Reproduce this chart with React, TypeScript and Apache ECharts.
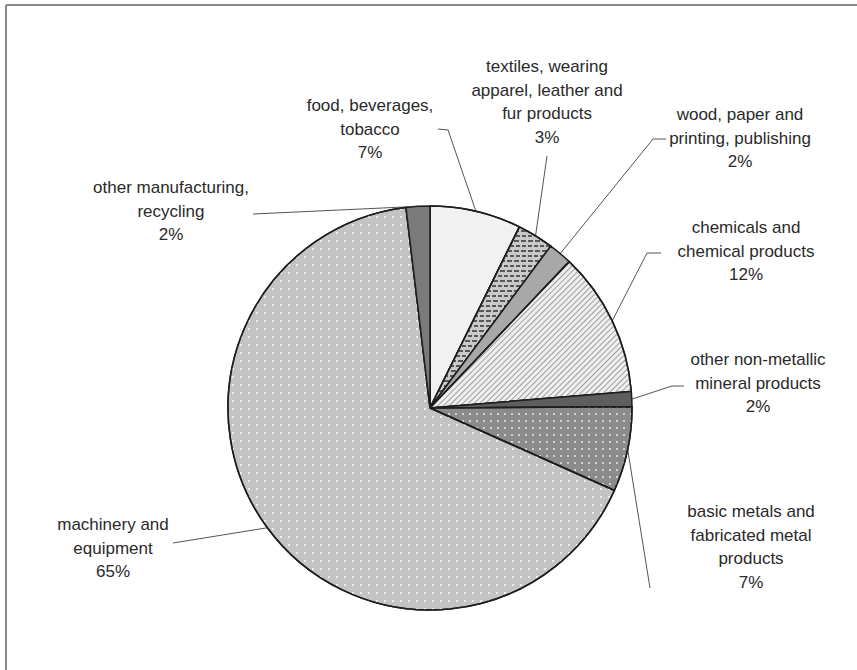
import React, { useEffect, useRef } from "react";
import * as echarts from "echarts";

const categories = [
  "food, beverages,\ntobacco",
  "textiles, wearing\napparel, leather and\nfur products",
  "wood, paper and\nprinting, publishing",
  "chemicals and\nchemical products",
  "other non-metallic\nmineral products",
  "basic metals and\nfabricated metal\nproducts",
  "machinery and\nequipment",
  "other manufacturing,\nrecycling",
];
const shares = [7.3, 2.9, 1.9, 11.6, 1.2, 6.8, 66.4, 1.9];
const shareLabels = ["7%", "3%", "2%", "12%", "2%", "7%", "65%", "2%"];

// label anchor (top-center) and guide-line end points, layout only
const labelPos = [
  { x: 370, y: 94, line: [[448, 130], [438, 129]] },
  { x: 547, y: 55, line: [[547, 156], [547, 156]] },
  { x: 740, y: 103, line: [[653, 139], [666, 139]] },
  { x: 746, y: 216, line: [[647, 253], [661, 253]] },
  { x: 758, y: 348, line: [[672, 386], [684, 386]] },
  { x: 751, y: 500, line: [[650, 588], [650, 588]] },
  { x: 113, y: 513, line: [[173, 543], [173, 543]] },
  { x: 171, y: 176, line: [[253, 214], [253, 214]] },
];

const sliceStyles: any[] = [
  { color: "#f1f1f1", decal: { symbol: "circle", symbolSize: 1, color: "rgba(80,80,80,0.45)", dashArrayX: [1, 2], dashArrayY: [1, 2] } },
  { color: "#c9c9c9", decal: { symbol: "rect", symbolSize: 1, color: "rgba(60,60,60,0.8)", dashArrayX: [[4, 2], [1, 2, 4, 0]], dashArrayY: [1.5, 2.5] } },
  { color: "#a8a8a8" },
  { color: "#efefef", decal: { symbol: "rect", symbolSize: 1, color: "rgba(90,90,90,0.55)", dashArrayX: [1, 0], dashArrayY: [1, 3], rotation: -Math.PI / 4 } },
  { color: "#5e5e5e" },
  { color: "#8b8b8b", decal: { symbol: "rect", symbolSize: 1, color: "rgba(255,255,255,0.6)", dashArrayX: [1.5, 5], dashArrayY: [1.5, 5] } },
  { color: "#c3c3c3", decal: { symbol: "rect", symbolSize: 1, color: "rgba(255,255,255,0.7)", dashArrayX: [1.5, 5.5], dashArrayY: [1.5, 5.5] } },
  { color: "#7a7a7a" },
];

export default function App() {
  const ref = useRef<HTMLDivElement>(null);
  useEffect(() => {
    if (!ref.current) return;
    const chart = echarts.init(ref.current, null, { renderer: "svg" });
    chart.setOption({
      animation: false,
      backgroundColor: "#ffffff",
      graphic: [
        {
          type: "line",
          shape: { x1: 6, y1: 5, x2: 857, y2: 5 },
          style: { stroke: "#8a8a8a", lineWidth: 2 },
          silent: true,
        },
        {
          type: "line",
          shape: { x1: 6, y1: 5, x2: 6, y2: 670 },
          style: { stroke: "#8a8a8a", lineWidth: 2 },
          silent: true,
        },
      ],
      series: [
        {
          type: "pie",
          center: [430, 408],
          radius: 202,
          startAngle: 90,
          clockwise: true,
          avoidLabelOverlap: false,
          emphasis: { disabled: true },
          itemStyle: { borderColor: "#1e1e1e", borderWidth: 1.5 },
          label: {
            show: true,
            position: "outside",
            fontFamily: "Liberation Sans",
            fontSize: 17,
            lineHeight: 23.5,
            color: "#2a2a2a",
            formatter: (p: any) => categories[p.dataIndex] + "\n" + shareLabels[p.dataIndex],
          },
          labelLine: {
            show: true,
            length: 10,
            length2: 10,
            lineStyle: { color: "#555555", width: 1 },
          },
          labelLayout: (p: any) => {
            const lp = labelPos[p.dataIndex];
            const start = p.labelLinePoints ? p.labelLinePoints[0] : lp.line[0];
            return {
              x: lp.x,
              y: lp.y,
              align: "center",
              verticalAlign: "top",
              labelLinePoints: [start, lp.line[0], lp.line[1]],
            };
          },
          data: categories.map((c, i) => ({
            name: c,
            value: shares[i],
            itemStyle: sliceStyles[i],
          })),
        },
      ],
    });
    return () => chart.dispose();
  }, []);
  return (
    <div
      ref={ref}
      style={{ position: "fixed", left: 0, top: 0, width: 857, height: 670 }}
    />
  );
}
